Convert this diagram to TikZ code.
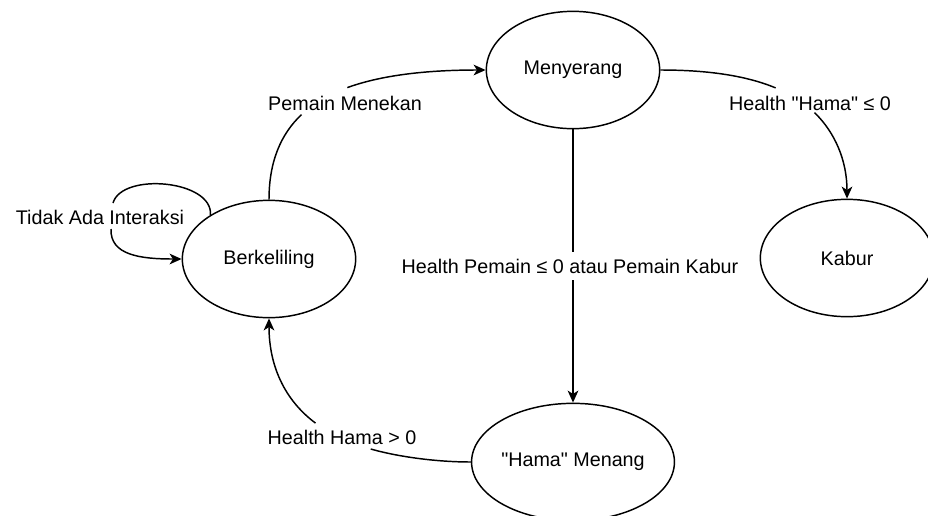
\documentclass[tikz,border=0pt]{standalone}
\usepackage{fontspec}
\setmainfont{Liberation Sans}
\usetikzlibrary{shapes.geometric,arrows.meta}
\tikzset{
  state/.style={draw,ellipse,line width=1.1pt,minimum width=130pt,minimum height=88pt,inner sep=0pt},
  lbl/.style={inner xsep=2pt,inner ysep=5pt},
  trans/.style={line width=1.1pt},
  transarr/.style={line width=1.1pt,-{Stealth[length=9pt,width=8pt,inset=2.5pt]}}
}
\begin{document}
\begin{tikzpicture}[x=0.75pt,y=-0.75pt,font=\fontsize{14.8}{17}\selectfont]
\useasboundingbox (0,0) rectangle (928,515);
% states
\node[state] (b) at (269,259) {Berkeliling};
\node[state] (m) at (573,70) {Menyerang};
\node[state] (k) at (847,258) {Kabur};
\node[state] (h) at (573,462) {\textquotedbl Hama\textquotedbl{} Menang};
% labels
\node[lbl] (l1) at (100,217) {Tidak Ada Interaksi};
\node[lbl] (l2) at (345,103) {Pemain Menekan};
\node[lbl] (l3) at (810,103) {Health \textquotedbl Hama\textquotedbl{} ≤ 0};
\node[lbl] (l4) at (570,266) {Health Pemain ≤ 0 atau Pemain Kabur};
\node[lbl] (l5) at (342,437) {Health Hama > 0};
% where the curves break for the labels
\coordinate (l1a) at (113,203);
\coordinate (l1b) at (111,229);
\coordinate (l2a) at (301.5,114.6);
\coordinate (l2b) at (347.3,87.6);
\coordinate (l3a) at (775.6,87.9);
\coordinate (l3b) at (814.5,112.6);
\coordinate (l5a) at (370.7,449);
\coordinate (l5b) at (315.5,423.1);
% transitions
\draw[trans] (b.143) .. controls (213,180) and (122,172) .. (l1a);
\draw[transarr] (l1b) .. controls (110,255) and (140,259) .. (b.west);
\draw[trans] (b.north) .. controls (269,161.5) and (280.9,134) .. (l2a);
\draw[transarr] (l2b) .. controls (384.9,73.9) and (433.2,70) .. (m.west);
\draw[trans] (m.east) .. controls (705.1,70) and (744.7,75) .. (l3a);
\draw[transarr] (l3b) .. controls (835.3,132.7) and (847,161) .. (k.north);
\draw[trans] (m.south) -- (m.south |- l4.north);
\draw[transarr] (m.south |- l4.south) -- (h.north);
\draw[trans] (h.west) .. controls (440.5,462) and (401.9,457.8) .. (l5a);
\draw[transarr] (l5b) .. controls (284,399.6) and (269,365) .. (b.south);
\end{tikzpicture}
\end{document}
